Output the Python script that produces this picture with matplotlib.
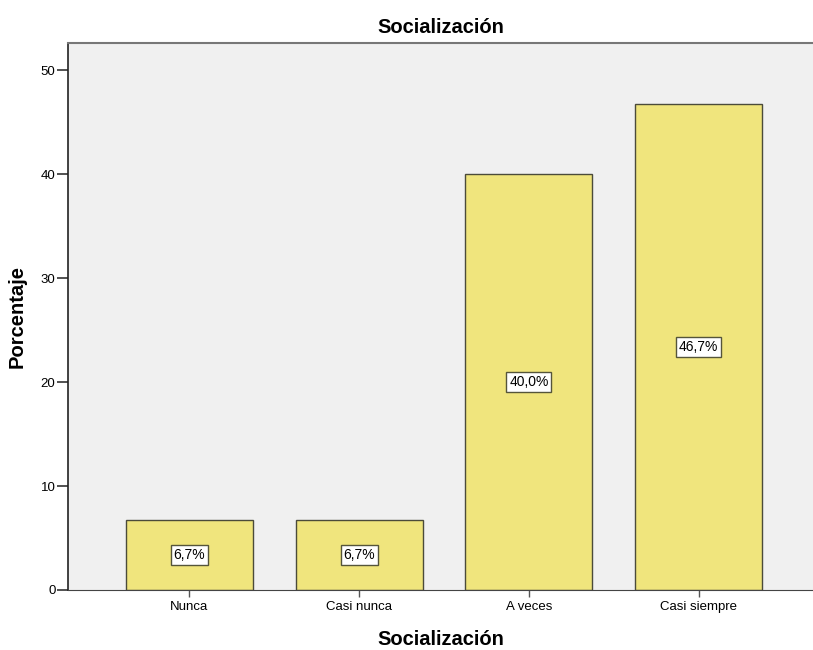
import matplotlib.pyplot as plt

categorias = ['Nunca', 'Casi nunca', 'A veces', 'Casi siempre']
porcentajes = [6.7, 6.7, 40.0, 46.7]
etiquetas = ['6,7%', '6,7%', '40,0%', '46,7%']

plt.rcParams['font.family'] = ['Liberation Sans', 'DejaVu Sans']

fig = plt.figure(figsize=(8.13, 6.5), dpi=100)
ax = fig.add_axes([68 / 813, 60 / 650, 745 / 813, 547 / 650])
ax.set_facecolor('#F0F0F0')

x = range(len(categorias))
bars = ax.bar(x, porcentajes, width=0.747, color='#F0E57D', edgecolor='#4B4B3A', linewidth=1.0, zorder=2)

for xi, v, t in zip(x, porcentajes, etiquetas):
    ax.text(xi, v / 2, t, ha='center', va='center', fontsize=10, zorder=3,
            bbox=dict(boxstyle='square,pad=0.2', facecolor='white', edgecolor='#55553A', linewidth=1.0))

ax.set_xlim(-0.715, 3.674)
ax.set_ylim(0, 52.6)
ax.set_yticks([0, 10, 20, 30, 40, 50])
ax.set_xticks(list(x))
ax.set_xticklabels(categorias)
ax.tick_params(axis='y', length=8, width=1.2, color='#333333', labelsize=9.5, pad=1)
ax.tick_params(axis='x', length=5, width=1, color='#555555', labelsize=9.5, pad=3)

ax.spines['left'].set_color('#222222')
ax.spines['left'].set_linewidth(1.2)
ax.spines['bottom'].set_color('#444444')
ax.spines['top'].set_color('#777777')
ax.spines['top'].set_linewidth(1.5)
ax.spines['right'].set_visible(False)

ax.set_title('Socialización', fontsize=14.5, fontweight='bold', pad=7)
ax.set_xlabel('Socialización', fontsize=14.5, fontweight='bold', labelpad=12)
ax.set_ylabel('Porcentaje', fontsize=14.5, fontweight='bold', labelpad=10)

fig.savefig('out.png', dpi=100)
